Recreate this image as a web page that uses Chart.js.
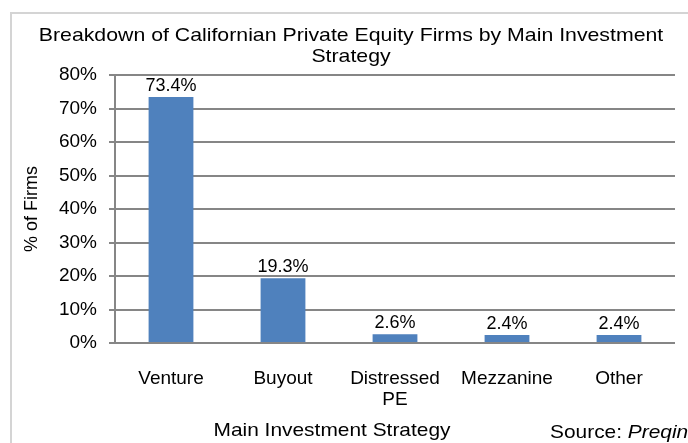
<!DOCTYPE html>
<html>
<head>
<meta charset="utf-8">
<script src="https://cdn.jsdelivr.net/npm/chart.js@4/dist/chart.umd.min.js"></script>
<style>
    html, body { margin: 0; padding: 0; background: #ffffff; }
    #wrap { width: 688px; height: 443px; position: relative; }
</style>
</head>
<body>
<div id="wrap"><canvas id="strategyChart"></canvas></div>
<script>
        // ===== 数据 =====
        const strategies = ["Venture", "Buyout", ["Distressed", "PE"], "Mezzanine", "Other"];
        const shareOfFirms = [73.4, 19.3, 2.6, 2.4, 2.4];
        const yTicks = [0, 10, 20, 30, 40, 50, 60, 70, 80];

        const chartTitle = ["Breakdown of Californian Private Equity Firms by Main Investment", "Strategy"];
        const xTitle = "Main Investment Strategy";
        const yTitle = "% of Firms";

        const FONT = "'Liberation Sans', Arial, sans-serif";
        const GRID = "#868686";

        // 横向拉伸的文字（原图字体偏宽）
        function wideText(c, text, x, y, sx) {
            c.save();
            c.translate(x, y);
            c.scale(sx, 1);
            c.fillText(text, 0, 0);
            c.restore();
        }

        // 外框、标题、数值标签
        const decorations = {
            id: "decorations",
            beforeDraw(chart) {
                const c = chart.ctx;
                c.save();
                c.strokeStyle = "#d4d4d4";
                c.lineWidth = 2;
                c.strokeRect(11, 13, 700, 460);
                c.restore();
            },
            afterDraw(chart) {
                const c = chart.ctx;
                const area = chart.chartArea;
                c.save();
                c.fillStyle = "#000000";
                c.font = "19px " + FONT;
                c.textAlign = "center";
                c.textBaseline = "middle";
                wideText(c, chartTitle[0], 351, 36, 1.12);
                wideText(c, chartTitle[1], 351, 57, 1.12);

                wideText(c, xTitle, 332, 431, 1.1);

                c.save();
                c.font = "18px " + FONT;
                c.translate(32, (area.top + area.bottom) / 2);
                c.rotate(-Math.PI / 2);
                c.fillText(yTitle, 0, 0);
                c.restore();

                // 来源
                c.textAlign = "left";
                c.font = "19px " + FONT;
                const w = c.measureText("Source: ").width * 1.1;
                wideText(c, "Source: ", 550, 433, 1.1);
                c.font = "italic 19px " + FONT;
                wideText(c, "Preqin", 550 + w, 433, 1.1);

                // 数值标签
                c.font = "18px " + FONT;
                c.textAlign = "center";
                c.textBaseline = "bottom";
                const meta = chart.getDatasetMeta(0);
                meta.data.forEach((bar, i) => {
                    c.fillText(shareOfFirms[i].toFixed(1) + "%", bar.x, bar.y - 2);
                });
                c.restore();
            }
        };

        const ctx = document.getElementById("strategyChart").getContext("2d");
        const strategyChart = new Chart(ctx, {
            type: "bar",
            data: {
                labels: strategies,
                datasets: [{
                    data: shareOfFirms,
                    backgroundColor: "#4f81bd",
                    borderWidth: 0,
                    categoryPercentage: 1,
                    barPercentage: 0.4
                }]
            },
            options: {
                responsive: true,
                maintainAspectRatio: false,
                animation: false,
                layout: { padding: { top: 75, right: 13, left: 0, bottom: 0 } },
                plugins: {
                    legend: { display: false },
                    tooltip: { enabled: false }
                },
                scales: {
                    x: {
                        grid: { display: false },
                        border: { display: false },
                        ticks: {
                            color: "#000000",
                            font: { family: FONT, size: 19, lineHeight: 1.1 },
                            padding: 17,
                            maxRotation: 0,
                            autoSkip: false
                        },
                        afterFit(scale) { scale.height = 100; }
                    },
                    y: {
                        min: 0,
                        max: 80,
                        afterBuildTicks(scale) {
                            scale.ticks = yTicks.map(v => ({ value: v }));
                        },
                        grid: {
                            color: GRID,
                            lineWidth: 2,
                            tickLength: 6
                        },
                        border: { display: true, color: GRID, width: 2 },
                        ticks: {
                            color: "#000000",
                            font: { family: FONT, size: 19 },
                            padding: 12,
                            callback: v => v + "%"
                        },
                        afterFit(scale) { scale.width = 115; }
                    }
                }
            },
            plugins: [decorations]
        });
</script>
</body>
</html>
